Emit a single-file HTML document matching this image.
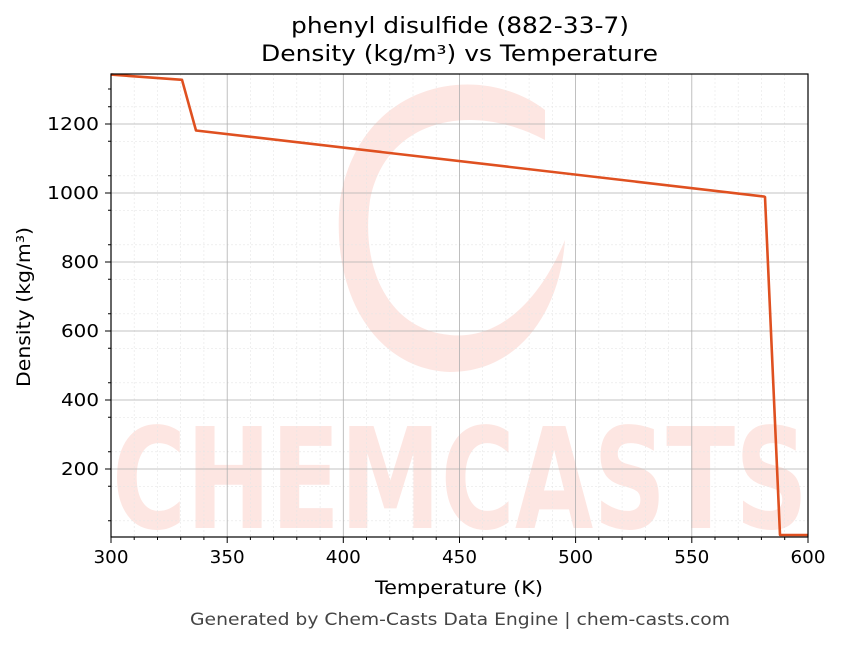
<!DOCTYPE html>
<html><head><style>body{margin:0;background:#fff}</style></head><body>
<svg width="843" height="644" xmlns="http://www.w3.org/2000/svg" font-family="DejaVu Sans, Liberation Sans, sans-serif">
<rect width="843" height="644" fill="#fff"/>
<defs><clipPath id="c"><rect x="111" y="74" width="697" height="463"/></clipPath></defs>
<g clip-path="url(#c)" opacity="0.8">
<text x="112" y="528" font-size="140" font-weight="bold" fill="#fde0db" textLength="696" lengthAdjust="spacingAndGlyphs">CHEMCASTS</text>
<path d="M545,110 C480,60 360,80 340,200 C330,300 380,370 450,372 C520,372 560,310 565,240 C540,300 500,340 450,335 C390,330 360,270 370,200 C385,120 470,100 545,140 Z" fill="#fde0db"/>
</g>
<g stroke="#e6e6e6" stroke-width="0.6" stroke-dasharray="2,2">
<path d="M134.2,74V537M157.5,74V537M180.7,74V537M203.9,74V537M250.4,74V537M273.6,74V537M296.8,74V537M320.1,74V537M366.5,74V537M389.8,74V537M413,74V537M436.2,74V537M482.7,74V537M505.9,74V537M529.1,74V537M552.4,74V537M598.8,74V537M622.1,74V537M645.3,74V537M668.5,74V537M715,74V537M738.2,74V537M761.4,74V537M784.7,74V537"/>
<path d="M111,520.8H808M111,486.3H808M111,451.8H808M111,417.3H808M111,382.8H808M111,348.3H808M111,313.8H808M111,279.3H808M111,244.8H808M111,210.3H808M111,175.8H808M111,141.3H808M111,106.8H808"/>
</g>
<g stroke="#b0b0b0" stroke-width="0.8">
<path d="M227.2,74V537M343.3,74V537M459.5,74V537M575.6,74V537M691.8,74V537"/>
<path d="M111,469H808M111,400H808M111,331H808M111,262H808M111,193H808M111,124H808"/>
</g>
<polyline points="111,74.6 182,79.8 196,130.5 764,196.5 765,197 780,535 808,535" fill="none" stroke="#df5020" stroke-width="2.6" stroke-linejoin="round"/>
<rect x="111" y="74" width="697" height="463" fill="none" stroke="#000" stroke-width="1.2"/>
<g stroke="#000" stroke-width="1">
<path d="M111,537v6M227.2,537v6M343.3,537v6M459.5,537v6M575.6,537v6M691.8,537v6M808,537v6"/>
<path d="M134.2,537v3M157.5,537v3M180.7,537v3M203.9,537v3M250.4,537v3M273.6,537v3M296.8,537v3M320.1,537v3M366.5,537v3M389.8,537v3M413,537v3M436.2,537v3M482.7,537v3M505.9,537v3M529.1,537v3M552.4,537v3M598.8,537v3M622.1,537v3M645.3,537v3M668.5,537v3M715,537v3M738.2,537v3M761.4,537v3M784.7,537v3"/>
<path d="M111,469h-6M111,400h-6M111,331h-6M111,262h-6M111,193h-6M111,124h-6"/>
<path d="M111,520.8h-3M111,486.3h-3M111,451.8h-3M111,417.3h-3M111,382.8h-3M111,348.3h-3M111,313.8h-3M111,279.3h-3M111,244.8h-3M111,210.3h-3M111,175.8h-3M111,141.3h-3M111,106.8h-3M111,89h-3"/>
</g>
<g font-size="18" fill="#000" text-anchor="middle">
<text x="111" y="563" textLength="35" lengthAdjust="spacingAndGlyphs">300</text><text x="227.2" y="563" textLength="35" lengthAdjust="spacingAndGlyphs">350</text><text x="343.3" y="563" textLength="35" lengthAdjust="spacingAndGlyphs">400</text><text x="459.5" y="563" textLength="35" lengthAdjust="spacingAndGlyphs">450</text><text x="575.6" y="563" textLength="35" lengthAdjust="spacingAndGlyphs">500</text><text x="691.8" y="563" textLength="35" lengthAdjust="spacingAndGlyphs">550</text><text x="808" y="563" textLength="35" lengthAdjust="spacingAndGlyphs">600</text>
</g>
<g font-size="18" fill="#000" text-anchor="end">
<text x="99" y="475" textLength="38" lengthAdjust="spacingAndGlyphs">200</text><text x="99" y="406" textLength="38" lengthAdjust="spacingAndGlyphs">400</text><text x="99" y="337" textLength="38" lengthAdjust="spacingAndGlyphs">600</text><text x="99" y="268" textLength="38" lengthAdjust="spacingAndGlyphs">800</text><text x="99" y="199" textLength="52" lengthAdjust="spacingAndGlyphs">1000</text><text x="99" y="130" textLength="52" lengthAdjust="spacingAndGlyphs">1200</text>
</g>
<text x="375" y="594" font-size="19" textLength="168" lengthAdjust="spacingAndGlyphs">Temperature (K)</text>
<text transform="translate(30,387) rotate(-90)" font-size="19" textLength="160" lengthAdjust="spacingAndGlyphs">Density (kg/m³)</text>
<text x="291" y="33" font-size="22" textLength="338" lengthAdjust="spacingAndGlyphs">phenyl disulfide (882-33-7)</text>
<text x="261" y="61" font-size="22" textLength="397" lengthAdjust="spacingAndGlyphs">Density (kg/m³) vs Temperature</text>
<text x="190" y="625" font-size="17" fill="#444" textLength="540" lengthAdjust="spacingAndGlyphs">Generated by Chem-Casts Data Engine | chem-casts.com</text>
</svg>
</body></html>
